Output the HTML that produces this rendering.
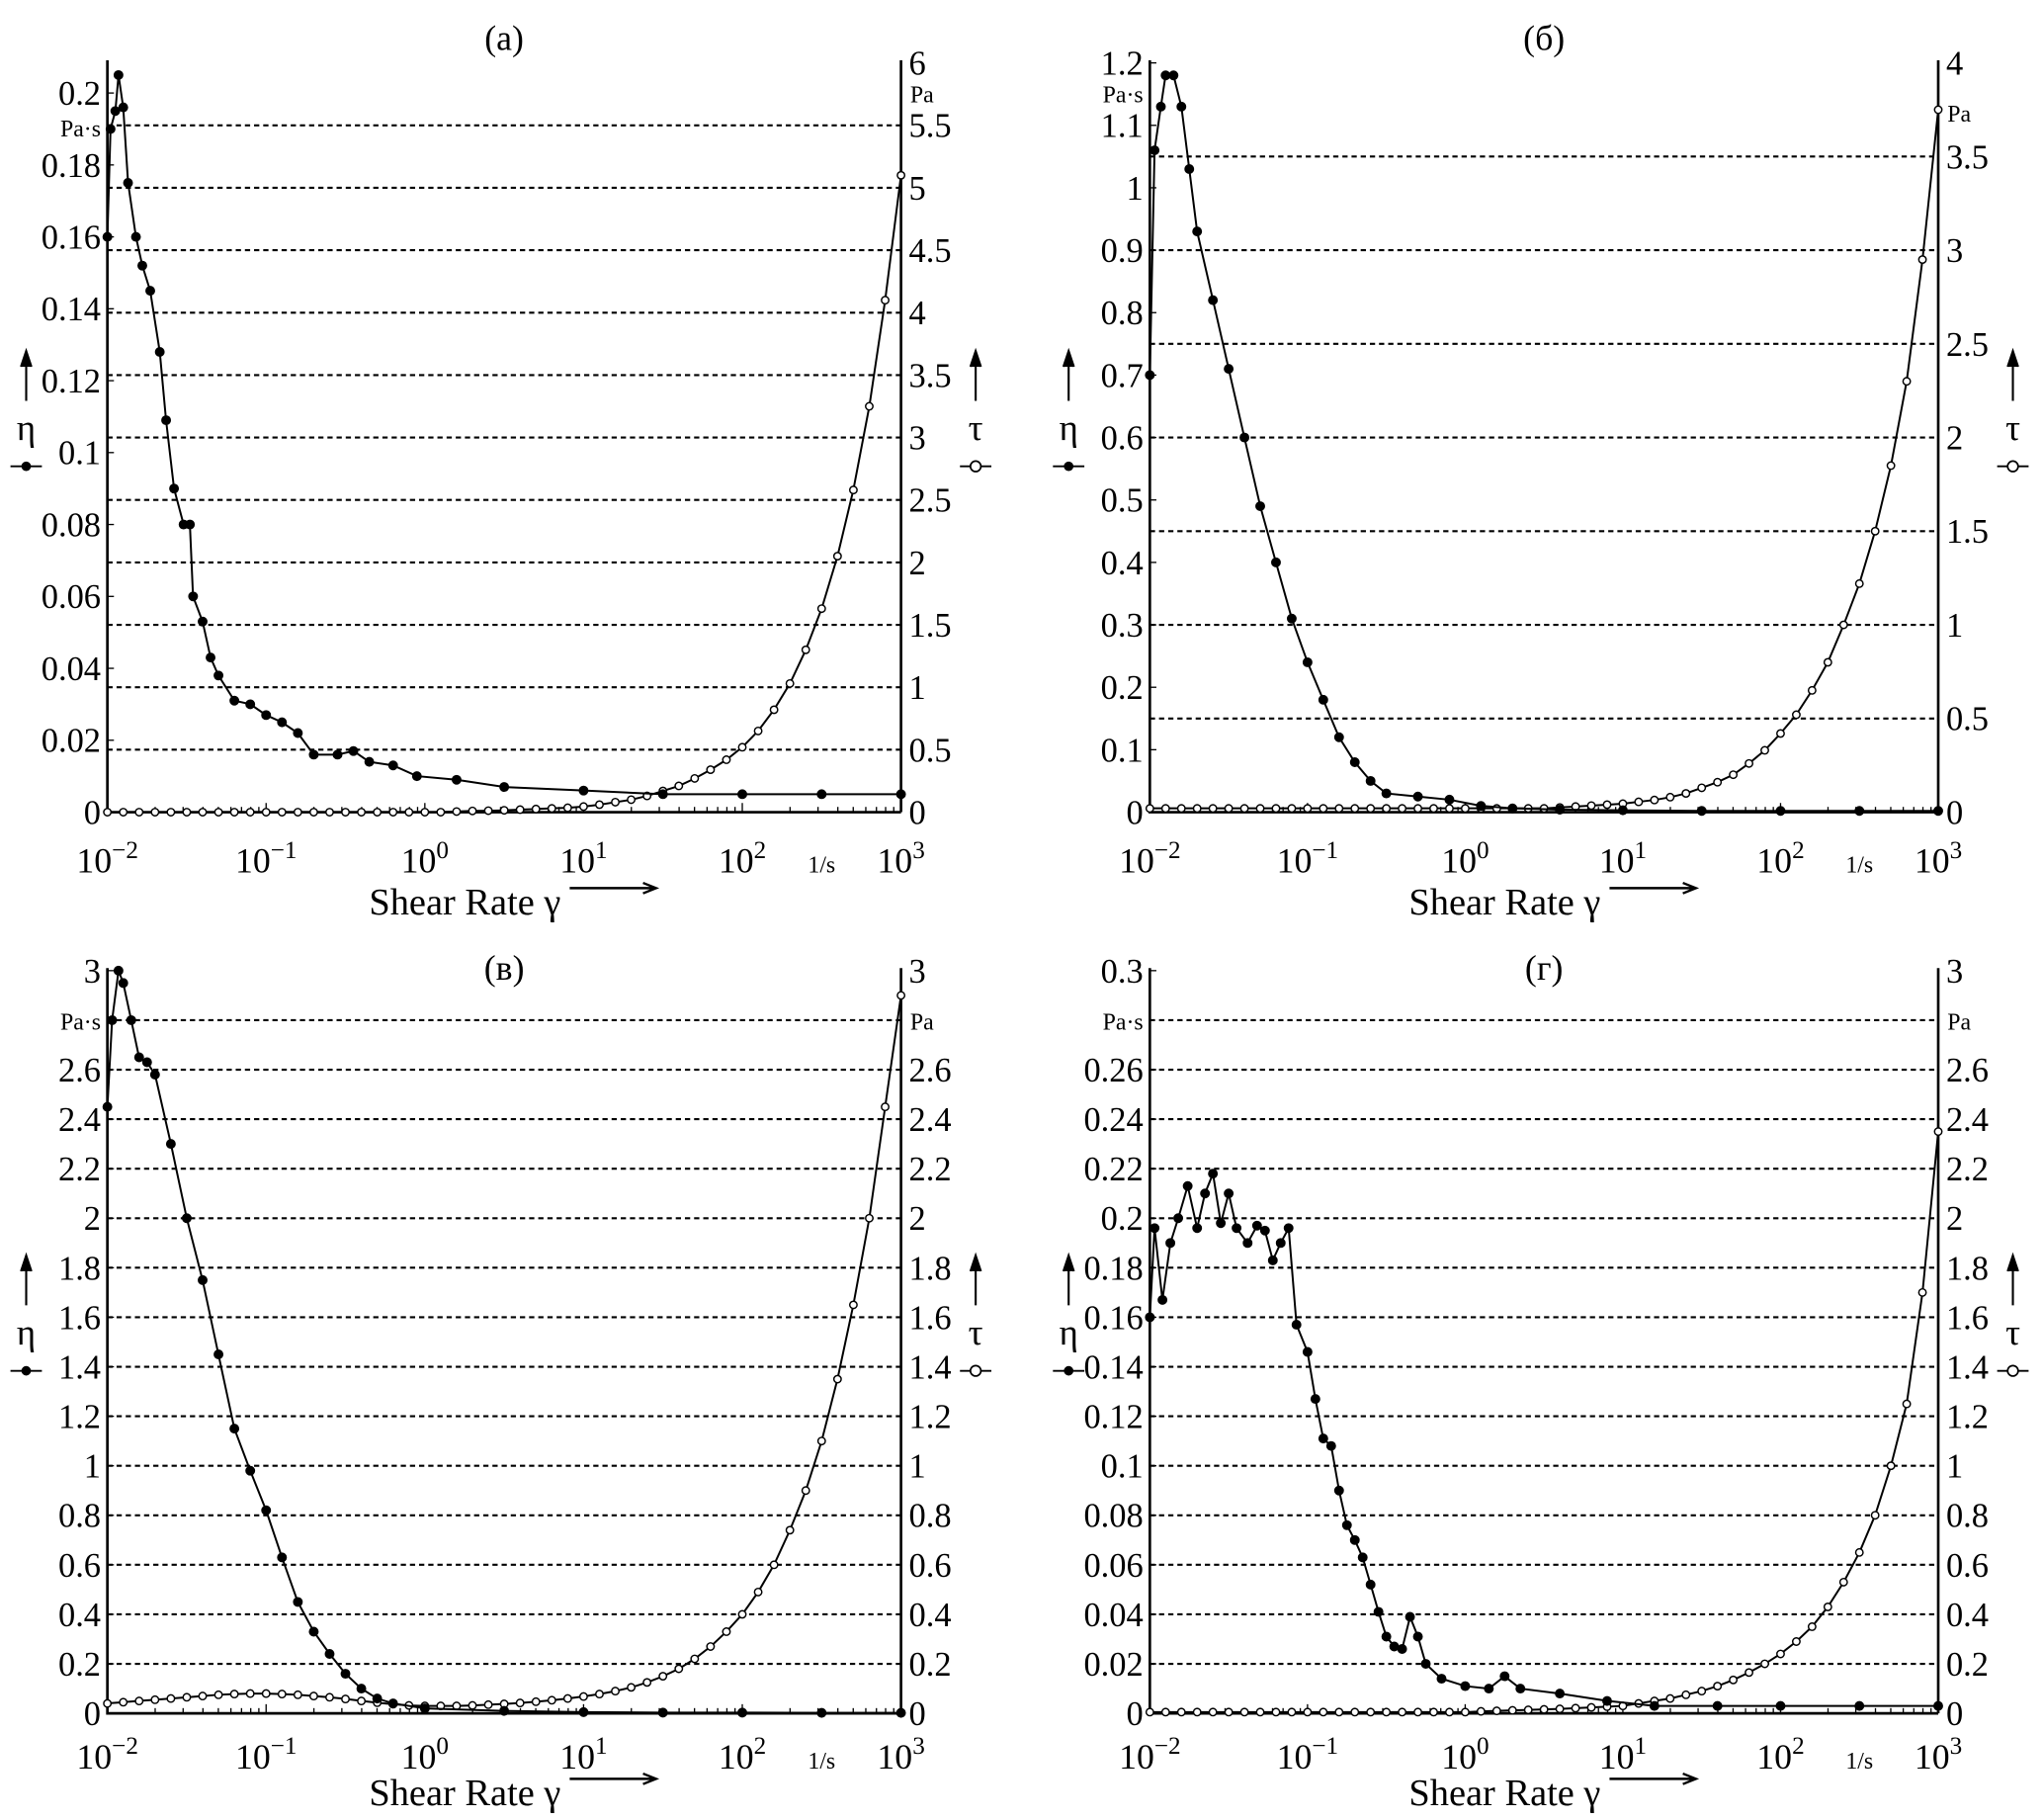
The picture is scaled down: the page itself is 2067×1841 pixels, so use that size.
<!DOCTYPE html>
<html><head><meta charset="utf-8">
<style>
html,body{margin:0;padding:0;background:#fff;}
svg{display:block;font-family:"Liberation Serif",serif;}
</style></head>
<body>
<svg id="fig" width="2067" height="1841" viewBox="0 0 1560 1389.4" xmlns="http://www.w3.org/2000/svg"></svg>
<script>
// shared shear-rate grid (log10) for tau series
const tauGrid=[-2,-1.9,-1.8,-1.7,-1.6,-1.5,-1.4,-1.3,-1.2,-1.1,-1,-0.9,-0.8,-0.7,-0.6,-0.5,-0.4,-0.3,-0.2,-0.1,0,0.1,0.2,0.3,0.4,0.5,0.6,0.7,0.8,0.9,1,1.1,1.2,1.3,1.4,1.5,1.6,1.7,1.8,1.9,2,2.1,2.2,2.3,2.4,2.5,2.6,2.7,2.8,2.9,3];
// Panel (a)
const aEtaX=[-2,-1.98,-1.95,-1.93,-1.9,-1.87,-1.82,-1.78,-1.73,-1.67,-1.63,-1.58,-1.52,-1.48,-1.46,-1.4,-1.35,-1.3,-1.2,-1.1,-1.0,-0.9,-0.8,-0.7,-0.55,-0.45,-0.35,-0.2,-0.05,0.2,0.5,1,1.5,2,2.5,3];
const aEtaY=[0.16,0.19,0.195,0.205,0.196,0.175,0.16,0.152,0.145,0.128,0.109,0.09,0.08,0.08,0.06,0.053,0.043,0.038,0.031,0.03,0.027,0.025,0.022,0.016,0.016,0.017,0.014,0.013,0.01,0.009,0.007,0.006,0.005,0.005,0.005,0.005];
const aTauY=[0,0,0,0,0,0,0,0,0,0,0,0,0,0,0,0,0,0,0,0,0,0,0.005,0.01,0.012,0.015,0.02,0.025,0.03,0.035,0.045,0.06,0.08,0.1,0.13,0.17,0.21,0.27,0.34,0.42,0.52,0.65,0.82,1.03,1.3,1.63,2.05,2.58,3.25,4.1,5.1];
// Panel (б)
const bEtaX=[-2,-1.97,-1.93,-1.9,-1.85,-1.8,-1.75,-1.7,-1.6,-1.5,-1.4,-1.3,-1.2,-1.1,-1.0,-0.9,-0.8,-0.7,-0.6,-0.5,-0.3,-0.1,0.1,0.3,0.6,1,1.5,2,2.5,3];
const bEtaY=[0.7,1.06,1.13,1.18,1.18,1.13,1.03,0.93,0.82,0.71,0.6,0.49,0.4,0.31,0.24,0.18,0.12,0.08,0.05,0.03,0.025,0.02,0.01,0.006,0.004,0.003,0.002,0.002,0.002,0.002];
const bTauY=[0.02,0.02,0.02,0.02,0.02,0.02,0.02,0.02,0.02,0.02,0.02,0.02,0.02,0.02,0.02,0.02,0.02,0.02,0.02,0.02,0.02,0.02,0.02,0.02,0.02,0.02,0.025,0.03,0.035,0.04,0.045,0.055,0.065,0.08,0.1,0.13,0.16,0.2,0.26,0.33,0.42,0.52,0.65,0.8,1.0,1.22,1.5,1.85,2.3,2.95,3.75];
// Panel (в)
const cEtaX=[-2,-1.97,-1.93,-1.9,-1.85,-1.8,-1.75,-1.7,-1.6,-1.5,-1.4,-1.3,-1.2,-1.1,-1.0,-0.9,-0.8,-0.7,-0.6,-0.5,-0.4,-0.3,-0.2,0,0.5,1,1.5,2,2.5,3];
const cEtaY=[2.45,2.8,3.0,2.95,2.8,2.65,2.63,2.58,2.3,2.0,1.75,1.45,1.15,0.98,0.82,0.63,0.45,0.33,0.24,0.16,0.1,0.06,0.04,0.02,0.01,0.005,0.003,0.003,0.002,0.002];
const cTauY=[0.04,0.045,0.05,0.055,0.06,0.065,0.07,0.075,0.078,0.08,0.08,0.078,0.075,0.07,0.065,0.058,0.05,0.043,0.037,0.032,0.03,0.03,0.03,0.032,0.035,0.038,0.042,0.047,0.053,0.06,0.068,0.078,0.09,0.105,0.125,0.15,0.18,0.22,0.27,0.33,0.4,0.49,0.6,0.74,0.9,1.1,1.35,1.65,2.0,2.45,2.9];
// Panel (г)
const dEtaX=[-2,-1.97,-1.92,-1.87,-1.82,-1.76,-1.7,-1.65,-1.6,-1.55,-1.5,-1.45,-1.38,-1.32,-1.27,-1.22,-1.17,-1.12,-1.07,-1.0,-0.95,-0.9,-0.85,-0.8,-0.75,-0.7,-0.65,-0.6,-0.55,-0.5,-0.45,-0.4,-0.35,-0.3,-0.25,-0.15,0,0.15,0.25,0.35,0.6,0.9,1.2,1.6,2,2.5,3];
const dEtaY=[0.16,0.196,0.167,0.19,0.2,0.213,0.196,0.21,0.218,0.198,0.21,0.196,0.19,0.197,0.195,0.183,0.19,0.196,0.157,0.146,0.127,0.111,0.108,0.09,0.076,0.07,0.063,0.052,0.041,0.031,0.027,0.026,0.039,0.031,0.02,0.014,0.011,0.01,0.015,0.01,0.008,0.005,0.003,0.003,0.003,0.003,0.003];
const dTauY=[0.005,0.005,0.005,0.005,0.005,0.005,0.005,0.005,0.005,0.005,0.005,0.005,0.005,0.005,0.005,0.005,0.005,0.005,0.005,0.005,0.005,0.008,0.01,0.012,0.014,0.016,0.018,0.021,0.024,0.027,0.03,0.04,0.05,0.06,0.075,0.09,0.11,0.135,0.165,0.2,0.24,0.29,0.35,0.43,0.53,0.65,0.8,1.0,1.25,1.7,2.35];

const NS="http://www.w3.org/2000/svg";
const svg=document.getElementById('fig');
function el(tag,attrs,parent){const e=document.createElementNS(NS,tag);for(const k in attrs)e.setAttribute(k,attrs[k]);(parent||svg).appendChild(e);return e;}
function txt(s,x,y,size,anchor,parent){const t=el('text',{x:x,y:y,'font-size':size,'text-anchor':anchor||'start',fill:'#000'},parent);t.textContent=s;return t;}

const panels=[
 {id:'a',title:'(a)',L:82,R:688,T:48,B:620,lmax:0.21,lstep:0.02,rmax:6,gridR:[0.5,1,1.5,2,2.5,3,3.5,4,4.5,5,5.5],lTop:0.2,unitLY:98,unitRY:72,skipL:[],rLabels:[0,0.5,1,1.5,2,2.5,3,3.5,4,4.5,5,5.5,6],ex:aEtaX,ey:aEtaY,ty:aTauY,titleY:38,xlY:46,xtY:78},
 {id:'b',title:'(б)',L:878,R:1480,T:48,B:620,lmax:1.2,lstep:0.1,rmax:4,gridR:[0.5,1,1.5,2,2.5,3,3.5],lTop:1.2,unitLY:72,unitRY:87,skipL:[],rLabels:[0,0.5,1,1.5,2,2.5,3,3.5,4],ex:bEtaX,ey:bEtaY,ty:bTauY,titleY:38,xlY:46,xtY:78},
 {id:'c',title:'(в)',L:82,R:688,T:741,B:1308,lmax:3,lstep:0.2,rmax:3,gridR:[0.2,0.4,0.6,0.8,1,1.2,1.4,1.6,1.8,2,2.2,2.4,2.6,2.8],lTop:3,unitLY:780,unitRY:780,skipL:[2.8],rLabels:[0,0.2,0.4,0.6,0.8,1,1.2,1.4,1.6,1.8,2,2.2,2.4,2.6,3],ex:cEtaX,ey:cEtaY,ty:cTauY,titleY:748,xlY:42,xtY:70},
 {id:'d',title:'(г)',L:878,R:1480,T:741,B:1308,lmax:0.3,lstep:0.02,rmax:3,gridR:[0.2,0.4,0.6,0.8,1,1.2,1.4,1.6,1.8,2,2.2,2.4,2.6,2.8],lTop:0.3,unitLY:780,unitRY:780,skipL:[0.28],rLabels:[0,0.2,0.4,0.6,0.8,1,1.2,1.4,1.6,1.8,2,2.2,2.4,2.6,3],ex:dEtaX,ey:dEtaY,ty:dTauY,titleY:748,xlY:42,xtY:70}
];

function fmt(v){return String(+v.toFixed(3));}

panels.forEach(p=>{
  const g=el('g',{});
  
  
  const xs=v=>p.L+(v+2)/5*(p.R-p.L);
  const yl=p.id==='a'? (v=>p.B-v/0.2*(p.B-71)) : (v=>p.B-v/p.lmax*(p.B-p.T));
  const yr=v=>p.B-v/p.rmax*(p.B-p.T);
  const tt=txt(p.title,(p.L+p.R)/2,p.titleY,27,'middle',g);
  
  
  p.gridR.forEach(v=>{
    const ln=el('line',{x1:p.L,x2:p.R,y1:yr(v),y2:yr(v),stroke:'#000','stroke-width':1.6,'stroke-dasharray':'4,3'},g);
    
    
  });
  const ax=el('path',{d:`M${p.L},${p.T-2}V${p.B}H${p.R}M${p.R},${p.T-2}V${p.B}`,stroke:'#000','stroke-width':2,fill:'none'},g);
  
  
  for(let d=-2;d<3;d++){for(let k=1;k<10;k++){const x=xs(d+Math.log10(k));el('line',{x1:x,x2:x,y1:p.B,y2:p.B-(k===1?7:4),stroke:'#000','stroke-width':1},g);}}
  const n=Math.round(p.lTop/p.lstep);
  for(let i=0;i<=n;i++){
    const v=i*p.lstep; if(p.skipL.some(s=>Math.abs(s-v)<1e-9))continue;
    const t=txt(fmt(v),p.L-5,yl(v)+9,26,'end',g);
    
    
    el('line',{x1:p.L,x2:p.L+5,y1:yl(v),y2:yl(v),stroke:'#000','stroke-width':1},g);
  }
  p.rLabels.forEach(v=>{
    const t=txt(fmt(v),p.R+6,yr(v)+9,26,'start',g);
    
    
  });
  const ul=txt('Pa·s',p.L-5,p.unitLY+6,18,'end',g);
  
  
  const ur=txt('Pa',p.R+7,p.unitRY+6,18,'start',g);
  
  
  [-2,-1,0,1,2,3].forEach(d=>{
    const t=el('text',{x:xs(d),y:p.B+p.xlY,'font-size':27,'text-anchor':'middle'},g);
    t.innerHTML='10<tspan dy="-11" font-size="19">'+(d<0?'−'+(-d):d)+'</tspan>';
    
    
  });
  const us=txt('1/s',p.L+(p.R-p.L)*0.9,p.B+p.xlY,18,'middle',g);
  
  
  const xt=txt('Shear Rate γ',(p.L+p.R)/2-30,p.B+p.xtY,29,'middle',g);
  
  
  el('path',{d:`M${(p.L+p.R)/2+50},${p.B+p.xtY-20}h66m-10,-4l10,4l-10,4`,stroke:'#000','stroke-width':1.8,fill:'none'},g);
  const my=p.B-(p.B-p.T)*0.5;
  const lx=p.L-62, rx=p.R+57;
  [[lx,'η','eta-axis-title'],[rx,'τ','tau-axis-title']].forEach(([x,s,nm],j)=>{
    el('path',{d:`M${x},${my-28}v-36m-4,10l4,-12l4,12`,stroke:'#000','stroke-width':1.6,fill:'#000'},g);
    const t=txt(s,x,my+2,28,'middle',g);
    
    
    el('line',{x1:x-12,x2:x+12,y1:my+22,y2:my+22,stroke:'#000','stroke-width':1.4},g);
    el('circle',{cx:x,cy:my+22,r:j?4:3,fill:j?'#fff':'#000',stroke:'#000','stroke-width':1.3},g);
  });
  function series(X,Y,yf,filled,name){
    const sg=el('g',{},g);
    
    
    const pts=X.map((x,i)=>xs(x).toFixed(1)+','+yf(Y[i]).toFixed(1));
    el('polyline',{points:pts.join(' '),fill:'none',stroke:'#000','stroke-width':1.5},sg);
    X.forEach((x,i)=>{
      const c=el('circle',{cx:xs(x),cy:yf(Y[i]),r:filled?3.2:2.8,fill:filled?'#000':'#fff',stroke:'#000','stroke-width':1.1},sg);
      
      
    });
  }
  series(tauGrid,p.ty,yr,false,'tau-series');
  series(p.ex,p.ey,yl,true,'eta-series');
});
</script>
</body></html>
